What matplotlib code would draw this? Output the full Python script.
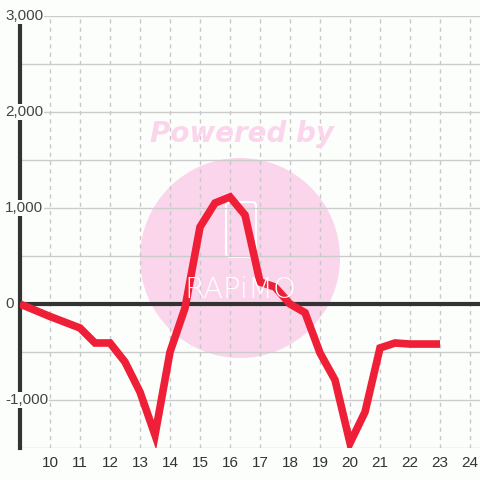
import matplotlib
matplotlib.use("Agg")
import matplotlib.pyplot as plt
from matplotlib.patches import Circle, FancyBboxPatch

# values
x_vals = [9, 10, 11, 11.5, 12, 12.5, 13, 13.5, 14, 14.5, 15, 15.5, 16, 16.5,
          17, 17.5, 18, 18.5, 19, 19.5, 20, 20.5, 21, 21.5, 22, 22.5, 23]
y_vals = [0, -130, -250, -406, -406, -604, -917, -1365, -500, -42, 802, 1052,
          1115, 927, 229, 177, 0, -90, -510, -792, -1448, -1125, -458, -406,
          -417, -417, -417]
x_ticks = list(range(10, 25))
y_labels = [3000, 2000, 1000, 0, -1000]

plt.rcParams['font.family'] = ['Liberation Sans', 'DejaVu Sans']

fig = plt.figure(figsize=(4.8, 4.8), dpi=100)
fig.patch.set_facecolor('#fcfefc')
ax = fig.add_axes([20 / 480, 1 - 448 / 480, 1 - 20 / 480, 432 / 480])
ax.set_facecolor('#fcfefc')
ax.set_xlim(9, 24.333)
ax.set_ylim(-1500, 3000)

# watermark
ax.add_patch(Circle((240 / 480, 1 - 258 / 480), 100 / 480,
                    transform=fig.transFigure, color='#fbd5ec', zorder=0.2,
                    lw=0))
ax.add_patch(FancyBboxPatch((226 / 480, 1 - 257 / 480), 30 / 480, 55 / 480,
                            boxstyle='round,pad=0,rounding_size=0.008',
                            transform=fig.transFigure, fill=False,
                            ec='white', lw=1.5, zorder=0.3))
fig.text(240 / 480, 1 - 290 / 480, 'RAPiMO', color='white', fontsize=21,
         ha='center', va='center', family='DejaVu Sans',
         fontweight='light', zorder=0.3)
fig.text(242 / 480, 1 - 134 / 480, 'Powered by', color='#fbd5ec',
         fontsize=20, fontweight='bold', fontstyle='italic',
         family='DejaVu Sans', ha='center', va='center', zorder=0.3)

# grid
for v in range(-1500, 3001, 500):
    ax.axhline(v, color='#cccccc', lw=1, zorder=0.5)
for t in x_ticks:
    ax.axvline(t, color='#c8c8c8', lw=1, ls=(0, (3, 3)), zorder=0.5)

ax.axhline(0, color='#333333', lw=3, zorder=2)
ax.plot(x_vals, y_vals, color='#ee1f37', lw=5.5, zorder=3,
        solid_joinstyle='miter', solid_capstyle='butt')

for s in ['top', 'right', 'bottom']:
    ax.spines[s].set_visible(False)
ax.spines['left'].set_color('#333333')
ax.spines['left'].set_linewidth(3)
ax.spines['left'].set_zorder(2.5)

ax.set_yticks([])
ax.set_xticks(x_ticks)
ax.set_xticklabels([str(t) for t in x_ticks], fontsize=11, color='#333333')
ax.tick_params(axis='x', length=0, pad=6)

for v in y_labels:
    ax.text(9 - 15 / 30, v, f'{v:,}', fontsize=11,
            color='#444444', ha='left', va='center', zorder=4,
            bbox=dict(facecolor='#fcfefc', edgecolor='none', pad=1))

fig.savefig('out.png', dpi=100, facecolor=fig.get_facecolor())
